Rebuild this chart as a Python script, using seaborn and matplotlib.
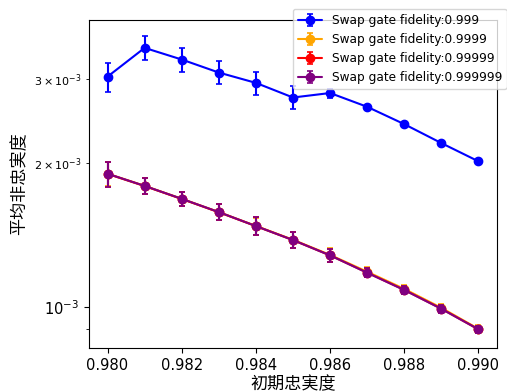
import numpy as np
import pandas as pd
import matplotlib
matplotlib.use("Agg")
import matplotlib.pyplot as plt
import seaborn as sns
from matplotlib.ticker import LogLocator, LogFormatterSciNotation
from matplotlib.legend_handler import HandlerTuple

sns.set_style("ticks", {"axes.edgecolor": "black", "text.color": "black",
                        "axes.labelcolor": "black", "xtick.color": "black",
                        "ytick.color": "black"})
plt.rcParams['font.family'] = ['DejaVu Sans', 'Noto Sans CJK SC']
plt.rcParams['axes.unicode_minus'] = False
plt.rcParams['axes.linewidth'] = 0.8
plt.rcParams['xtick.major.width'] = 0.8
plt.rcParams['ytick.major.width'] = 0.8
plt.rcParams['ytick.minor.width'] = 0.6

x_vals = [0.980, 0.981, 0.982, 0.983, 0.984, 0.985, 0.986, 0.987, 0.988, 0.989, 0.990]
labels = ["Swap gate fidelity:0.999", "Swap gate fidelity:0.9999",
          "Swap gate fidelity:0.99999", "Swap gate fidelity:0.999999"]
colors = ["blue", "orange", "red", "purple"]

y_0999 = [3.03e-3, 3.48e-3, 3.29e-3, 3.09e-3, 2.94e-3, 2.74e-3, 2.80e-3, 2.62e-3, 2.41e-3, 2.20e-3, 2.015e-3]
e_0999 = [0.21e-3, 0.20e-3, 0.19e-3, 0.17e-3, 0.165e-3, 0.15e-3, 0.06e-3, 0.02e-3, 0.015e-3, 0.015e-3, 0.01e-3]
y_09999 = [1.898e-3, 1.79e-3, 1.682e-3, 1.578e-3, 1.476e-3, 1.381e-3, 1.284e-3, 1.184e-3, 1.090e-3, 0.995e-3, 0.899e-3]
e_09999 = [0.11e-3, 0.07e-3, 0.055e-3, 0.06e-3, 0.06e-3, 0.053e-3, 0.042e-3, 0.025e-3, 0.02e-3, 0.02e-3, 0.015e-3]
y_099999 = [1.897e-3, 1.789e-3, 1.681e-3, 1.577e-3, 1.475e-3, 1.379e-3, 1.281e-3, 1.179e-3, 1.085e-3, 0.991e-3, 0.897e-3]
e_099999 = [0.115e-3, 0.07e-3, 0.057e-3, 0.06e-3, 0.063e-3, 0.054e-3, 0.042e-3, 0.025e-3, 0.02e-3, 0.02e-3, 0.015e-3]
y_0999999 = [1.898e-3, 1.79e-3, 1.682e-3, 1.578e-3, 1.475e-3, 1.379e-3, 1.281e-3, 1.178e-3, 1.084e-3, 0.990e-3, 0.897e-3]
e_0999999 = [0.115e-3, 0.07e-3, 0.057e-3, 0.06e-3, 0.063e-3, 0.054e-3, 0.042e-3, 0.025e-3, 0.02e-3, 0.02e-3, 0.015e-3]

series_y = [y_0999, y_09999, y_099999, y_0999999]
series_e = [e_0999, e_09999, e_099999, e_0999999]

W, H = 507, 392
fig = plt.figure(figsize=(W / 100, H / 100), dpi=100)
ax = fig.add_axes([89 / W, (H - 348) / H, (497 - 89) / W, (348 - 20) / H])

handles = []
for lab, col, ys, es in zip(labels, colors, series_y, series_e):
    df = pd.DataFrame({"x": x_vals, "y": ys})
    sns.lineplot(data=df, x="x", y="y", ax=ax, color=col, marker="o",
                 markersize=6, markeredgecolor=col, markeredgewidth=1,
                 linewidth=1.5, legend=False)
    line = ax.lines[-1]
    eb = ax.errorbar(x_vals, ys, yerr=es, fmt="none", ecolor=col,
                     elinewidth=1.5, capsize=2, capthick=1.2)
    handles.append((eb, line))

ax.set_yscale("log")
ax.set_xlim(0.9795, 0.9905)
ax.set_ylim(8.2e-4, 3.98e-3)
ax.set_xticks([0.980, 0.982, 0.984, 0.986, 0.988, 0.990])
ax.set_xticklabels(["0.980", "0.982", "0.984", "0.986", "0.988", "0.990"])
ax.yaxis.set_minor_locator(LogLocator(base=10, subs=np.arange(2, 10) * 1.0))
ax.yaxis.set_minor_formatter(LogFormatterSciNotation(labelOnlyBase=False, minor_thresholds=(2, 0.5)))
ax.tick_params(axis="x", labelsize=10.6)
ax.tick_params(axis="y", which="major", labelsize=10.6)
ax.tick_params(axis="y", which="minor", labelsize=8)

ax.set_xlabel("初期忠実度", fontsize=12.3, labelpad=2)
ax.set_ylabel("平均非忠実度", fontsize=12.3)

fig.legend(handles, labels, loc="upper left", bbox_to_anchor=(293 / W, 1 - 9 / H),
           fontsize=8.7, handler_map={tuple: HandlerTuple(ndivide=1)},
           borderaxespad=0, framealpha=0.8, edgecolor="0.8")

fig.savefig("out.png", dpi=100)
